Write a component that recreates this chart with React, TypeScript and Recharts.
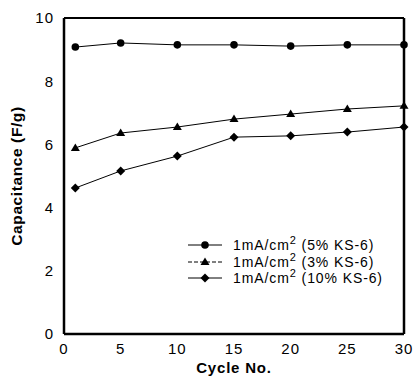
import { LineChart, Line, XAxis, YAxis, ReferenceLine } from 'recharts';

const cycles = [1, 5, 10, 15, 20, 25, 30];
const ks5 = [9.08, 9.21, 9.15, 9.15, 9.11, 9.15, 9.15];
const ks3 = [5.89, 6.36, 6.55, 6.8, 6.96, 7.12, 7.22];
const ks10 = [4.62, 5.16, 5.63, 6.23, 6.27, 6.39, 6.55];
const xTicks = [0, 5, 10, 15, 20, 25, 30];
const yTicks = [0, 2, 4, 6, 8, 10];
const seriesNames = ['(5% KS-6)', '(3% KS-6)', '(10% KS-6)'];

const data = cycles.map((c, i) => ({ cycle: c, ks5: ks5[i], ks3: ks3[i], ks10: ks10[i] }));

const FONT = '"Liberation Sans", Arial, sans-serif';

function marker(shape: string, cx: number, cy: number, key?: string | number) {
  if (shape === 'circle') return <circle key={key} cx={cx} cy={cy} r={3.8} fill="#000" />;
  if (shape === 'triangle')
    return <path key={key} d={`M${cx},${cy - 4.5}L${cx + 4.5},${cy + 3}L${cx - 4.5},${cy + 3}Z`} fill="#000" />;
  return <path key={key} d={`M${cx},${cy - 4.5}L${cx + 4.5},${cy}L${cx},${cy + 4.5}L${cx - 4.5},${cy}Z`} fill="#000" />;
}

const dotFor = (shape: string) => (p: any) => marker(shape, p.cx, p.cy, p.index);

const shapes = ['circle', 'triangle', 'diamond'];

function LegendBox() {
  return (
    <div
      style={{
        position: 'absolute',
        left: 185,
        top: 237,
        fontFamily: FONT,
        fontSize: 14,
        letterSpacing: 0.9,
        color: '#000',
      }}
    >
      {seriesNames.map((name, i) => (
        <div key={name} style={{ display: 'flex', alignItems: 'center', height: 16.5, whiteSpace: 'nowrap' }}>
          <svg width={46} height={12} style={{ marginRight: 2 }}>
            <line x1={3} y1={6} x2={37} y2={6} stroke="#000" strokeWidth={1} strokeDasharray={i === 1 ? '4 2' : undefined} />
            {marker(shapes[i], 20, 6)}
          </svg>
          <span>
            1mA/cm<sup style={{ fontSize: 11, lineHeight: 0 }}>2</sup> {name}
          </span>
        </div>
      ))}
    </div>
  );
}

export default function App() {
  const tickStyle = { fontFamily: FONT, fontSize: 15, fill: '#000', letterSpacing: 1 };
  return (
    <div style={{ position: 'absolute', left: 0, top: 0, width: 414, height: 383, background: '#fff' }}>
      <LineChart width={414} height={383} data={data} margin={{ top: 18, right: 10, bottom: 0, left: 0 }}>
        <XAxis
          dataKey="cycle"
          type="number"
          domain={[0, 30]}
          ticks={xTicks}
          tickSize={0}
          tickMargin={9}
          tick={tickStyle}
          height={49}
          axisLine={{ stroke: '#000', strokeWidth: 2.5 }}
          label={{
            value: 'Cycle No.',
            position: 'insideBottom',
            offset: 10,
            style: { fontFamily: FONT, fontSize: 15, fontWeight: 'bold', fill: '#000', letterSpacing: 0.8 },
          }}
        />
        <YAxis
          type="number"
          domain={[0, 10]}
          ticks={yTicks}
          tickSize={0}
          tickMargin={10}
          tick={tickStyle}
          width={64}
          axisLine={{ stroke: '#000', strokeWidth: 2.5 }}
          label={{
            value: 'Capacitance (F/g)',
            angle: -90,
            position: 'insideLeft',
            offset: 16,
            style: { textAnchor: 'middle', fontFamily: FONT, fontSize: 15.5, fontWeight: 'bold', fill: '#000', letterSpacing: 0.6 },
          }}
        />
        <ReferenceLine y={10} stroke="#000" strokeWidth={2} />
        <ReferenceLine x={30} stroke="#000" strokeWidth={2.5} />
        <Line dataKey="ks5" stroke="#000" strokeWidth={1} dot={dotFor('circle')} isAnimationActive={false} />
        <Line dataKey="ks3" stroke="#000" strokeWidth={1} dot={dotFor('triangle')} isAnimationActive={false} />
        <Line dataKey="ks10" stroke="#000" strokeWidth={1} dot={dotFor('diamond')} isAnimationActive={false} />
      </LineChart>
      <LegendBox />
    </div>
  );
}
